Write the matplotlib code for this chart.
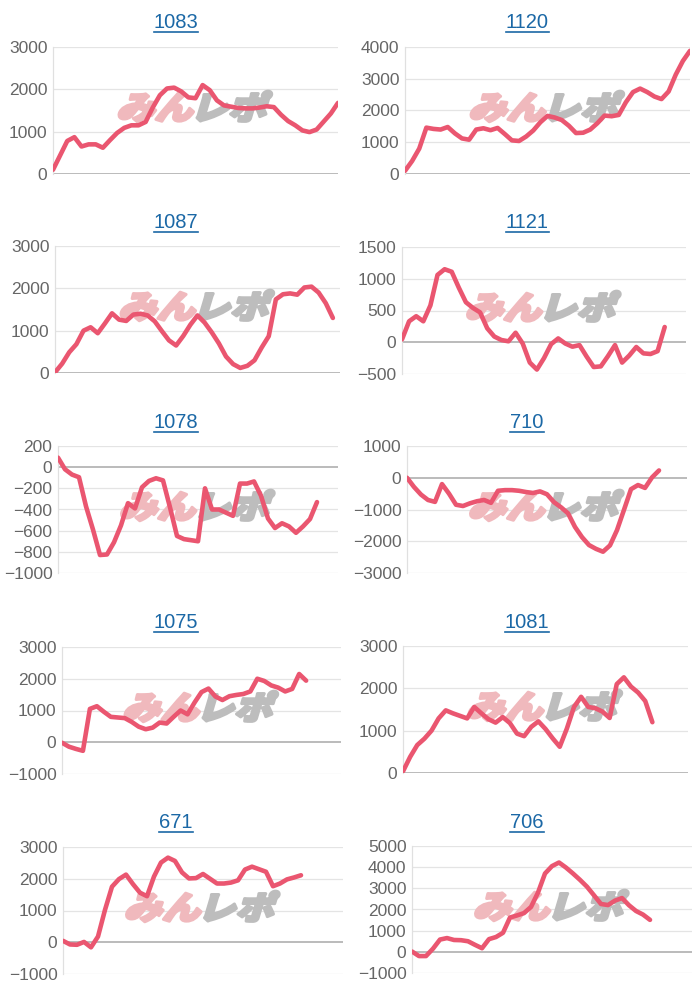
import matplotlib
matplotlib.use("Agg")
import matplotlib.pyplot as plt
from matplotlib.textpath import TextPath
from matplotlib.patches import PathPatch
from matplotlib.font_manager import FontProperties
from matplotlib.lines import Line2D
import matplotlib.transforms as mtransforms

plt.rcParams['font.family'] = ['Liberation Sans', 'DejaVu Sans']

# machine numbers (panel titles)
titles = ['1083', '1120', '1087', '1121', '1078', '710', '1075', '1081', '671', '706']

# medal difference per sample (hidden category axis, 41 slots)
s1083 = [100, 440, 780, 870, 650, 700, 700, 620, 800, 970, 1090, 1150, 1150, 1230,
         1570, 1860, 2020, 2040, 1950, 1810, 1790, 2100, 1980, 1740, 1620, 1590,
         1560, 1550, 1550, 1570, 1600, 1580, 1400, 1250, 1150, 1030, 990, 1050,
         1240, 1430, 1680]
s1120 = [100, 410, 800, 1460, 1420, 1400, 1480, 1280, 1120, 1080, 1400, 1440, 1380,
         1450, 1260, 1060, 1040, 1180, 1370, 1630, 1830, 1780, 1700, 1520, 1290,
         1300, 1400, 1600, 1840, 1820, 1860, 2260, 2580, 2690, 2580, 2440, 2360,
         2600, 3130, 3560, 3880]
s1087 = [15, 220, 490, 680, 1000, 1080, 940, 1170, 1410, 1260, 1230, 1380, 1400,
         1360, 1220, 990, 770, 650, 875, 1140, 1360, 1190, 960, 700, 390, 210, 120,
         170, 300, 600, 870, 1740, 1860, 1880, 1850, 2020, 2040, 1900, 1650, 1300]
s1121 = [45, 330, 410, 330, 580, 1060, 1150, 1110, 860, 630, 540, 470, 220, 90, 35,
         15, 150, -20, -320, -430, -250, -30, 60, -20, -70, -45, -225, -390, -380,
         -220, -45, -320, -210, -75, -175, -185, -140, 240]
s1078 = [90, -20, -70, -95, -370, -590, -830, -825, -710, -550, -340, -390, -190,
         -130, -105, -125, -380, -650, -680, -690, -700, -200, -400, -400, -430,
         -460, -155, -155, -135, -270, -485, -575, -530, -560, -620, -560, -490, -330]
s710 = [0, -290, -530, -700, -760, -200, -500, -850, -890, -805, -740, -700, -790,
        -410, -390, -390, -410, -450, -480, -430, -520, -770, -930, -1120, -1550,
        -1870, -2120, -2240, -2330, -2130, -1650, -1010, -360, -230, -320, 10, 230]
s1075 = [-15, -140, -210, -270, 1050, 1135, 960, 800, 780, 760, 640, 490, 410, 460,
         620, 590, 800, 1000, 880, 1250, 1580, 1690, 1440, 1330, 1450, 1490, 1520,
         1600, 2000, 1930, 1790, 1720, 1600, 1680, 2150, 1940]
s1081 = [40, 380, 660, 810, 1000, 1290, 1480, 1410, 1350, 1290, 1560, 1410, 1270,
         1190, 1320, 1180, 930, 870, 1090, 1220, 1040, 820, 620, 1050, 1560, 1800,
         1560, 1530, 1450, 1300, 2100, 2260, 2040, 1900, 1700, 1200]
s671 = [45, -70, -80, 10, -160, 180, 1020, 1750, 1990, 2130, 1830, 1560, 1450, 2070,
        2510, 2665, 2560, 2200, 2010, 2020, 2150, 2000, 1850, 1850, 1880, 1950, 2290,
        2380, 2300, 2220, 1765, 1850, 1980, 2040, 2110]
s706 = [15, -200, -200, 150, 580, 650, 560, 550, 500, 330, 170, 600, 700, 900, 1620,
        1720, 1830, 2120, 2800, 3700, 4050, 4220, 3980, 3700, 3400, 3075, 2670, 2260,
        2210, 2420, 2540, 2200, 1930, 1760, 1510]
series = [s1083, s1120, s1087, s1121, s1078, s710, s1075, s1081, s671, s706]

# y ranges (min, max, step)
yranges = [(0, 3000, 1000), (0, 4000, 1000), (0, 3000, 1000), (-500, 1500, 500),
           (-1000, 200, 200), (-3000, 1000, 1000), (-1000, 3000, 1000),
           (0, 3000, 1000), (-1000, 3000, 1000), (-1000, 5000, 1000)]

n_slots = 41

# plot boxes in pixels: left, right, top, bottom
boxes = [(53, 338, 47, 174), (405, 690, 47, 174),
         (55, 340, 246, 373), (402, 686, 247, 374),
         (58, 338, 446, 573), (407, 687, 446, 573),
         (62, 341, 647, 774), (403, 688, 646, 773),
         (63, 343, 847, 974), (412, 692, 846, 973)]

W, H = 700, 1000
fig = plt.figure(figsize=(W / 100, H / 100), dpi=100)

line_color = '#ea5670'
title_color = '#1b68a6'
wm_font = FontProperties(family='Noto Sans CJK JP', weight='heavy')


def add_watermark(ax):
    p1 = TextPath((0, 0), 'みん', size=22, prop=wm_font)
    p2 = TextPath((0, 0), 'レポ', size=22, prop=wm_font)
    e1 = p1.get_extents()
    e2 = p2.get_extents()
    gap = 3
    total = e1.width + gap + e2.width
    h = max(e1.height, e2.height)
    for path, ext, x0, col in [(p1, e1, 0, '#f0b9bd'), (p2, e2, e1.width + gap, '#bdbdbd')]:
        tr = (mtransforms.Affine2D()
              .translate(x0 - ext.x0 - total / 2, -h / 2)
              .skew_deg(14, 0)
              .scale(1.25 * fig.dpi / 72, 1.05 * fig.dpi / 72)
              + mtransforms.ScaledTranslation(0.5, 0.55, ax.transAxes))
        ax.add_patch(PathPatch(path, facecolor=col, edgecolor=col, lw=2.2,
                               joinstyle='round', transform=tr, zorder=1, clip_on=False))


title_texts = []
for i, (name, vals, (ymin, ymax, step), box) in enumerate(zip(titles, series, yranges, boxes)):
    l, r, t, b = box
    ax = fig.add_axes([l / W, 1 - b / H, (r - l) / W, (b - t) / H])
    ax.plot(range(len(vals)), vals, color=line_color, lw=3.3,
            solid_joinstyle='round', solid_capstyle='round', zorder=3)
    ax.set_xlim(0, n_slots - 1)
    ax.set_ylim(ymin, ymax)
    ticks = list(range(ymin, ymax + 1, step))
    ax.set_yticks(ticks)
    ax.set_xticks([])
    ax.tick_params(axis='y', length=0, pad=4, labelsize=12.5, labelcolor='#666666')
    for tv in ticks:
        ax.axhline(tv, color='#a8a8a8' if tv == 0 else '#e4e4e4',
                   lw=1.1 if tv == 0 else 0.9, zorder=0.5)
    for sp in ['top', 'right', 'bottom']:
        ax.spines[sp].set_visible(False)
    ax.spines['left'].set_color('#e0e0e0')
    ax.spines['left'].set_linewidth(0.9)
    ax.patch.set_alpha(0)
    add_watermark(ax)

    col = i % 2
    row = i // 2
    cx = (176 + 351 * col) / W
    cy = 1 - (23 + 200 * row) / H
    tt = fig.text(cx, cy, name, ha='center', va='center', fontsize=14.5, color=title_color)
    title_texts.append(tt)

fig.canvas.draw()
renderer = fig.canvas.get_renderer()
inv = fig.transFigure.inverted()
for tt in title_texts:
    bb = tt.get_window_extent(renderer)
    (x0, y0), (x1, _) = inv.transform([(bb.x0, bb.y0 + 1), (bb.x1, bb.y0 + 1)])
    fig.add_artist(Line2D([x0, x1], [y0, y0], color=title_color, lw=1.2,
                          transform=fig.transFigure))

fig.savefig('out.png', dpi=100)
